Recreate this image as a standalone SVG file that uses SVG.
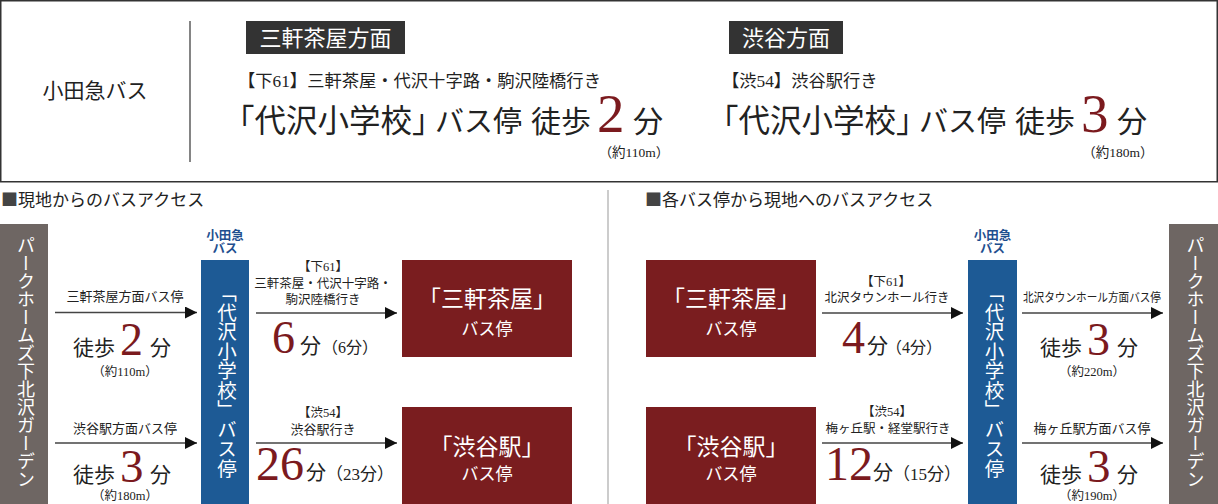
<svg xmlns="http://www.w3.org/2000/svg" width="1218" height="504" viewBox="0 0 1218 504">
<style>
text{font-family:"Liberation Serif","Noto Sans CJK JP",serif;fill:#222}
.w{fill:#fff}
.red{fill:#7b1a1e}
.m{text-anchor:middle}
.v{writing-mode:vertical-rl}
.blue{fill:#1f4f8f;font-weight:bold;font-size:12.5px}
.ln{stroke:#444;stroke-width:1.5;fill:none;marker-end:url(#ah)}
.gray{fill:#6e6663}
.bl{fill:#1d5a95}
.rb{fill:#7a1d1f}
.sq{font-family:"Noto Sans CJK JP",sans-serif;fill:#444}
</style>
<defs>
<marker id="ah" markerUnits="userSpaceOnUse" markerWidth="12" markerHeight="12" refX="12" refY="6" orient="auto" viewBox="0 0 12 12"><path d="M0,0L12,6L0,12z" fill="#111"/></marker>
</defs>
<rect width="1218" height="504" fill="#fff"/>

<g id="top-panel">
<rect x="0.75" y="0.75" width="1216.5" height="181" fill="#fff" stroke="#333" stroke-width="1.5"/>
<line x1="190" y1="21" x2="190" y2="162" stroke="#333" stroke-width="1.2"/>
<text x="95" y="98" class="m" font-size="21">小田急バス</text>
</g>

<g id="dir-sangenjaya">
<rect x="246" y="21" width="159" height="33" fill="#333"/>
<text x="325.5" y="46" class="m w" font-size="22">三軒茶屋方面</text>
<text x="238" y="87" font-size="17.3">【下61】三軒茶屋・代沢十字路・駒沢陸橋行き</text>
<text y="132"><tspan x="223" font-size="31.5">「代沢小学校」</tspan><tspan x="435" font-size="29">バス停</tspan><tspan x="531" font-size="30">徒歩</tspan><tspan x="597" font-size="55" class="red">2</tspan><tspan x="633" font-size="30">分</tspan></text>
<text x="634" y="157" class="m" font-size="13.5">（約110m）</text>
</g>

<g id="dir-shibuya">
<rect x="729" y="21" width="114" height="33" fill="#333"/>
<text x="786" y="46" class="m w" font-size="22">渋谷方面</text>
<text x="722" y="87" font-size="17.3">【渋54】渋谷駅行き</text>
<text y="132"><tspan x="707" font-size="31.5">「代沢小学校」</tspan><tspan x="919" font-size="29">バス停</tspan><tspan x="1015" font-size="30">徒歩</tspan><tspan x="1081" font-size="55" class="red">3</tspan><tspan x="1117" font-size="30">分</tspan></text>
<text x="1118" y="157" class="m" font-size="13.5">（約180m）</text>
</g>

<g id="headings">
<text x="1" y="206" font-size="17"><tspan class="sq">■</tspan>現地からのバスアクセス</text>
<text x="645" y="206" font-size="17"><tspan class="sq">■</tspan>各バス停から現地へのバスアクセス</text>
<line x1="608" y1="190" x2="608" y2="504" stroke="#999" stroke-width="1"/>
</g>

<g id="home-left">
<rect x="0" y="224" width="48" height="280" class="gray"/>
<text x="24" y="236" class="v w" font-size="18">パークホームズ下北沢ガーデン</text>
</g>

<g id="stop-daizawa-left">
<text x="225" y="240" class="m blue">小田急</text>
<text x="225" y="253" class="m blue">バス</text>
<rect x="201" y="260" width="48" height="244" class="bl"/>
<text x="225" y="283" class="v w" font-size="19.5">「代沢小学校」バス停</text>
</g>

<g id="stop-sangenjaya-left">
<rect x="402" y="260" width="170" height="97" class="rb"/>
<text x="487" y="307" class="m w" font-size="23">「三軒茶屋」</text>
<text x="487" y="335" class="m w" font-size="17">バス停</text>
</g>

<g id="stop-shibuya-left">
<rect x="402" y="407" width="170" height="97" class="rb"/>
<text x="487" y="455" class="m w" font-size="23">「渋谷駅」</text>
<text x="487" y="480" class="m w" font-size="17">バス停</text>
</g>

<g id="stop-sangenjaya-right">
<rect x="646" y="260" width="170" height="97" class="rb"/>
<text x="731" y="307" class="m w" font-size="23">「三軒茶屋」</text>
<text x="731" y="335" class="m w" font-size="17">バス停</text>
</g>

<g id="stop-shibuya-right">
<rect x="646" y="407" width="170" height="97" class="rb"/>
<text x="731" y="455" class="m w" font-size="23">「渋谷駅」</text>
<text x="731" y="480" class="m w" font-size="17">バス停</text>
</g>

<g id="stop-daizawa-right">
<text x="992.5" y="240" class="m blue">小田急</text>
<text x="992.5" y="253" class="m blue">バス</text>
<rect x="968" y="260" width="49" height="244" class="bl"/>
<text x="992.5" y="283" class="v w" font-size="19.5">「代沢小学校」バス停</text>
</g>

<g id="home-right">
<rect x="1169" y="224" width="49" height="280" class="gray"/>
<text x="1193.5" y="236" class="v w" font-size="18">パークホームズ下北沢ガーデン</text>
</g>

<g id="connectors">
<line x1="55" y1="312.5" x2="197" y2="312.5" class="ln"/>
<line x1="55" y1="443" x2="197" y2="443" class="ln"/>
<line x1="256" y1="313" x2="397" y2="313" class="ln"/>
<line x1="256" y1="443" x2="397" y2="443" class="ln"/>
<line x1="822" y1="313" x2="963" y2="313" class="ln"/>
<line x1="822" y1="443" x2="963" y2="443" class="ln"/>
<line x1="1022" y1="313" x2="1163" y2="313" class="ln"/>
<line x1="1022" y1="443" x2="1163" y2="443" class="ln"/>
</g>

<g id="connector-labels">
<text x="125" y="301" class="m" font-size="13">三軒茶屋方面バス停</text>
<text y="355"><tspan x="73" font-size="21">徒歩</tspan><tspan x="120" font-size="46" class="red">2</tspan><tspan x="150" font-size="21">分</tspan></text>
<text x="125" y="376" class="m" font-size="12.5">（約110m）</text>
<text x="125" y="433" class="m" font-size="13">渋谷駅方面バス停</text>
<text y="482"><tspan x="73" font-size="21">徒歩</tspan><tspan x="120" font-size="47" class="red">3</tspan><tspan x="150" font-size="21">分</tspan></text>
<text x="125" y="500" class="m" font-size="12.5">（約180m）</text>

<text x="323" y="271" class="m" font-size="12.5">【下61】</text>
<text x="323" y="288" class="m" font-size="12.5">三軒茶屋・代沢十字路・</text>
<text x="323" y="304" class="m" font-size="12.5">駒沢陸橋行き</text>
<text y="353"><tspan x="272" font-size="46" class="red">6</tspan><tspan x="300" font-size="21">分</tspan><tspan x="322" font-size="16">（6分）</tspan></text>
<text x="323" y="417" class="m" font-size="12.5">【渋54】</text>
<text x="323" y="434" class="m" font-size="13">渋谷駅行き</text>
<text y="480"><tspan x="256" font-size="48" class="red">26</tspan><tspan x="306" font-size="20">分</tspan><tspan x="326" font-size="17">（23分）</tspan></text>

<text x="886" y="286" class="m" font-size="12.5">【下61】</text>
<text x="887" y="302" class="m" font-size="12.5">北沢タウンホール行き</text>
<text y="353"><tspan x="842" font-size="46" class="red">4</tspan><tspan x="867" font-size="21">分</tspan><tspan x="886" font-size="16">（4分）</tspan></text>
<text x="887" y="416" class="m" font-size="12.5">【渋54】</text>
<text x="888" y="433" class="m" font-size="12.5">梅ヶ丘駅・経堂駅行き</text>
<text y="480"><tspan x="825" font-size="48" class="red">12</tspan><tspan x="873" font-size="20">分</tspan><tspan x="893" font-size="17">（15分）</tspan></text>

<text x="1092" y="302" class="m" font-size="12" textLength="138" lengthAdjust="spacingAndGlyphs">北沢タウンホール方面バス停</text>
<text y="355"><tspan x="1040" font-size="21">徒歩</tspan><tspan x="1087" font-size="46" class="red">3</tspan><tspan x="1117" font-size="21">分</tspan></text>
<text x="1092" y="376" class="m" font-size="12.5">（約220m）</text>
<text x="1092" y="433" class="m" font-size="13">梅ヶ丘駅方面バス停</text>
<text y="482"><tspan x="1040" font-size="21">徒歩</tspan><tspan x="1087" font-size="47" class="red">3</tspan><tspan x="1117" font-size="21">分</tspan></text>
<text x="1092" y="500" class="m" font-size="12.5">（約190m）</text>
</g>
</svg>
